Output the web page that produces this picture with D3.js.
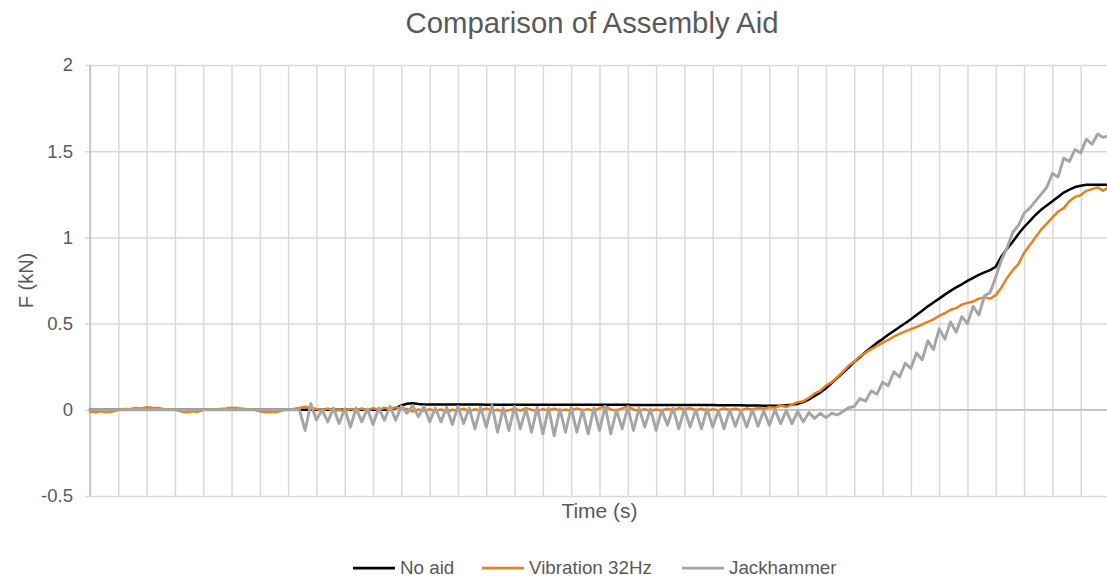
<!DOCTYPE html>
<html>
<head>
<meta charset="utf-8">
<script src="https://cdn.jsdelivr.net/npm/d3@7"></script>
<style>
  body { margin: 0; background: #fff; }
  text { font-family: "Liberation Sans", Arial, sans-serif; fill: #595959; }
</style>
</head>
<body>
<div id="chart"></div>
<script>
// force readings, kN, one value per sample (gridline every 5 samples)
var noAid = [
  0,0,0,0,0,0,0,0,0,0,
  0,0,0,0,0,0,0,0,0,0,
  0,0,0,0,0,0,0,0,0,0,
  0,0,0,0,0,0,0,0,0,0,
  0,0,0,0,0,0,0,0,0,0,
  0,0,0,0.002,0.01,0.025,0.035,0.038,0.034,0.031,
  0.031,0.031,0.031,0.031,0.031,0.031,0.031,0.031,0.031,0.031,
  0.030,0.030,0.030,0.030,0.030,0.030,0.030,0.030,0.030,0.030,
  0.030,0.029,0.029,0.029,0.029,0.029,0.029,0.029,0.029,0.029,
  0.029,0.029,0.029,0.029,0.029,0.029,0.028,0.028,0.028,0.028,
  0.028,0.028,0.028,0.028,0.028,0.028,0.028,0.028,0.028,0.028,
  0.028,0.027,0.027,0.026,0.026,0.026,0.025,0.025,0.025,0.024,
  0.024,0.024,0.025,0.027,0.03,0.034,0.045,0.06,0.08,0.10,
  0.125,0.155,0.185,0.215,0.245,0.278,0.305,0.335,0.362,0.388,
  0.41,0.435,0.457,0.48,0.502,0.525,0.55,0.575,0.6,0.622,
  0.645,0.668,0.69,0.71,0.728,0.748,0.765,0.782,0.797,0.81,
  0.83,0.89,0.935,0.975,1.02,1.06,1.095,1.13,1.16,1.185,
  1.21,1.235,1.26,1.277,1.292,1.30,1.305,1.305,1.305,1.305,
  1.305
];
var vib32 = [
  -0.01,-0.015,-0.008,-0.015,-0.01,0,0.005,0.003,0.01,0.008,
  0.015,0.012,0.01,0.005,0.003,0,-0.008,-0.015,-0.008,-0.012,
  0,0.003,0,0.005,0.008,0.012,0.01,0.006,0.002,0,
  -0.008,-0.015,-0.01,-0.013,-0.003,0,0.005,0.01,0.018,0.012,
  0.005,-0.005,0.008,-0.008,0,-0.01,0.005,-0.006,0.008,-0.004,
  0.01,0,0.012,0.004,0.015,0.008,0.005,-0.01,0.002,-0.008,
  0.004,-0.006,0.002,-0.01,0,-0.004,0.006,-0.008,0.003,-0.004,
  0.008,-0.006,0,-0.01,-0.002,0.006,-0.004,0.01,0,-0.006,
  0.004,-0.003,0.006,-0.005,0.002,-0.004,0.008,-0.002,0.004,-0.006,
  0.01,0.02,0.002,-0.004,0.008,0.02,0.002,-0.005,0.004,-0.006,
  0.002,-0.004,0.006,-0.003,0.01,0.004,0.01,-0.002,0.006,-0.004,
  0.004,-0.002,0.008,0,0.006,-0.002,0.008,0.002,0.01,0.006,
  0.015,0.012,0.025,0.016,0.03,0.044,0.05,0.07,0.095,0.11,
  0.14,0.16,0.19,0.22,0.255,0.28,0.31,0.33,0.352,0.37,
  0.388,0.405,0.425,0.44,0.455,0.468,0.48,0.495,0.51,0.525,
  0.545,0.56,0.58,0.59,0.61,0.62,0.628,0.645,0.652,0.645,
  0.665,0.71,0.765,0.81,0.845,0.91,0.955,1.0,1.045,1.08,
  1.115,1.15,1.17,1.21,1.235,1.245,1.27,1.28,1.29,1.27,
  1.295
];
var jackhammer = [
  0,0,0,0,0,0,0,0,0,0,
  0,0,0,0,0,0,0,0,0,0,
  0,0,0,0,0,0,0,0,0,0,
  0,0,0,0,0,0,0,0,-0.12,0.035,
  -0.06,0,-0.07,0.01,-0.08,0.005,-0.1,0.01,-0.07,0.005,
  -0.085,0.01,-0.06,0.02,-0.06,0.02,-0.02,0.025,-0.04,0.02,
  -0.07,0.01,-0.07,0.015,-0.085,0.02,-0.08,0.01,-0.11,0.015,
  -0.1,0.025,-0.13,0.01,-0.12,0.02,-0.11,0.005,-0.13,0.015,
  -0.14,0.01,-0.15,0.005,-0.13,0.015,-0.13,0,-0.14,0.01,
  -0.12,0.02,-0.14,0,-0.11,0.015,-0.12,0.01,-0.1,0.005,
  -0.12,0,-0.09,0.01,-0.11,0.005,-0.1,0,-0.11,0.005,
  -0.1,-0.005,-0.11,0,-0.095,-0.005,-0.1,0,-0.095,-0.005,
  -0.09,0,-0.08,-0.005,-0.08,-0.01,-0.07,-0.015,-0.05,-0.02,
  -0.045,-0.02,-0.03,-0.01,0.012,0.02,0.065,0.05,0.11,0.09,
  0.16,0.14,0.22,0.19,0.27,0.24,0.33,0.29,0.4,0.35,
  0.47,0.41,0.51,0.45,0.54,0.5,0.6,0.55,0.66,0.68,
  0.77,0.87,0.94,1.03,1.07,1.14,1.17,1.21,1.25,1.29,
  1.37,1.35,1.46,1.44,1.51,1.49,1.57,1.54,1.6,1.58,
  1.59
];
var seriesNames = ["No aid", "Vibration 32Hz", "Jackhammer"];
var seriesColors = ["#000000", "#E5821E", "#A5A5A5"];
var yTicks = [-0.5, 0, 0.5, 1, 1.5, 2];
var gridEvery = 5;

var width = 1107, height = 583;
var margin = { top: 65, right: -2, bottom: 87, left: 90 };
var plotW = width - margin.left - margin.right;
var plotH = height - margin.top - margin.bottom;

var svg = d3.select("#chart")
            .append("svg")
            .attr("width", width)
            .attr("height", height)
            .style("display", "block");

svg.append("rect").attr("width", width).attr("height", height).attr("fill", "#fff");

var x = d3.scaleLinear()
          .domain([0, noAid.length - 1])
          .range([margin.left, margin.left + plotW]);
var y = d3.scaleLinear()
          .domain([-0.5, 2])
          .range([margin.top + plotH, margin.top]);

// vertical gridlines
var xGrid = svg.append("g")
   .attr("transform", "translate(0," + y(-0.5) + ")")
   .call(d3.axisBottom(x).tickValues(d3.range(0, noAid.length, gridEvery)).tickSize(-plotH).tickFormat(""));
xGrid.select(".domain").remove();
xGrid.selectAll("line").attr("stroke", "#d9d9d9").attr("stroke-width", 1.5);

// horizontal gridlines + labels
var yGrid = svg.append("g")
   .attr("transform", "translate(" + (margin.left - 5) + ",0)")
   .call(d3.axisLeft(y).tickValues(yTicks).tickSize(-(plotW + 5)).tickPadding(12).tickFormat(function(d){ return String(d); }));
yGrid.select(".domain").remove();
yGrid.selectAll("line").attr("stroke", "#d9d9d9").attr("stroke-width", 1.5);
yGrid.selectAll("text").style("font-size", "18.5px").attr("fill", "#595959");

// axis lines
svg.append("line")
   .attr("x1", x(0)).attr("x2", x(0))
   .attr("y1", y.range()[0]).attr("y2", y.range()[1])
   .attr("stroke", "#bfbfbf").attr("stroke-width", 1.5);
svg.append("line")
   .attr("x1", x.range()[0]).attr("x2", x.range()[1])
   .attr("y1", y(0)).attr("y2", y(0))
   .attr("stroke", "#bfbfbf").attr("stroke-width", 1.5);

var line = d3.line()
   .x(function(d, i) { return x(i); })
   .y(function(d) { return y(d); });

var allSeries = [noAid, vib32, jackhammer];
svg.append("g").selectAll("path")
   .data(allSeries)
   .enter()
   .append("path")
   .attr("d", line)
   .attr("fill", "none")
   .attr("stroke", function(d, i) { return seriesColors[i]; })
   .attr("stroke-width", function(d, i) { return i == 2 ? 2.9 : 2.5; })
   .attr("stroke-linejoin", "round")
   .attr("stroke-linecap", "round");

// titles
svg.append("text")
   .attr("x", 592)
   .attr("y", 33)
   .attr("text-anchor", "middle")
   .style("font-size", "29.3px")
   .text("Comparison of Assembly Aid");

svg.append("text")
   .attr("x", (x.range()[0] + x.range()[1]) / 2)
   .attr("y", 518)
   .attr("text-anchor", "middle")
   .style("font-size", "21px")
   .text("Time (s)");

svg.append("text")
   .attr("transform", "translate(33," + ((y.range()[0] + y.range()[1]) / 2) + ") rotate(-90)")
   .attr("text-anchor", "middle")
   .style("font-size", "20px")
   .text("F (kN)");

// legend
var legendX = [353, 482, 682];
var legend = svg.append("g").selectAll("g")
   .data(seriesNames)
   .enter()
   .append("g")
   .attr("transform", function(d, i) { return "translate(" + legendX[i] + ",568)"; });
legend.append("line")
   .attr("x1", 0).attr("x2", 42)
   .attr("stroke", function(d, i) { return seriesColors[i]; })
   .attr("stroke-width", 2.75);
legend.append("text")
   .attr("x", 47)
   .attr("y", 6)
   .style("font-size", "18.8px")
   .text(function(d) { return d; });
</script>
</body>
</html>
